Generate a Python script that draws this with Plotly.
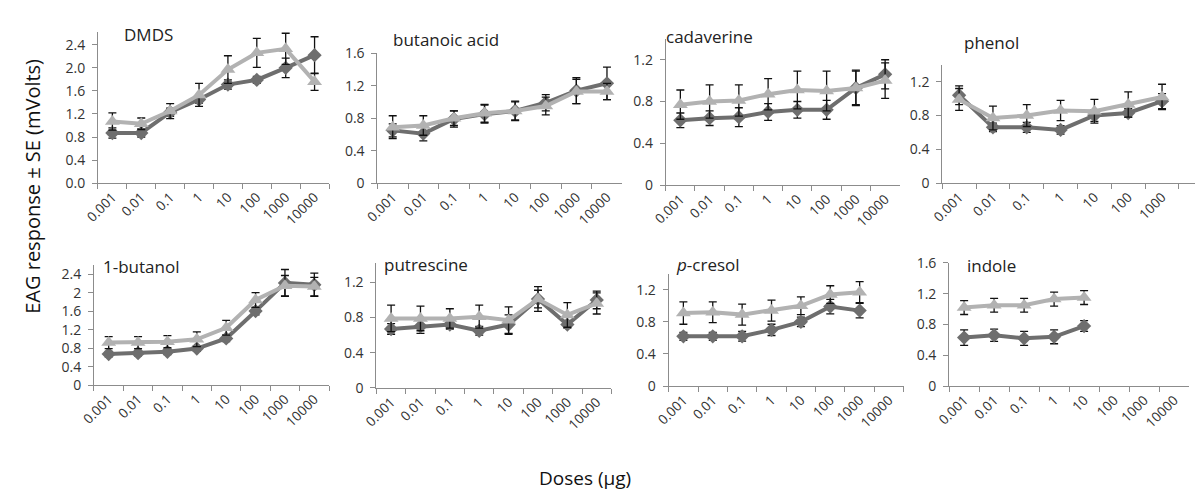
import plotly.graph_objects as go

# Dose levels (µg) shared by every panel
doses = ["0.001", "0.01", "0.1", "1", "10", "100", "1000", "10000"]

# Mean EAG response (mV) and SE for the two series of each compound
dmds_dark = [0.87, 0.87, 1.23, 1.45, 1.71, 1.79, 2.00, 2.22]
dmds_dark_se = [0.09, 0.07, 0.07, 0.06, 0.08, 0.06, 0.17, 0.32]
dmds_light = [1.07, 1.03, 1.25, 1.53, 1.97, 2.26, 2.33, 1.76]
dmds_light_se = [0.15, 0.10, 0.13, 0.20, 0.24, 0.25, 0.27, 0.15]

butanoic_dark = [0.65, 0.61, 0.79, 0.85, 0.89, 0.99, 1.14, 1.23]
butanoic_dark_se = [0.08, 0.09, 0.10, 0.11, 0.11, 0.10, 0.16, 0.20]
butanoic_light = [0.69, 0.71, 0.80, 0.86, 0.89, 0.95, 1.13, 1.13]
butanoic_light_se = [0.14, 0.12, 0.09, 0.11, 0.12, 0.11, 0.15, 0.10]

cadaverine_dark = [0.62, 0.64, 0.65, 0.70, 0.72, 0.72, 0.93, 1.06]
cadaverine_dark_se = [0.07, 0.07, 0.09, 0.08, 0.08, 0.09, 0.16, 0.14]
cadaverine_light = [0.77, 0.80, 0.81, 0.87, 0.91, 0.90, 0.93, 1.00]
cadaverine_light_se = [0.14, 0.16, 0.15, 0.15, 0.18, 0.19, 0.17, 0.17]

phenol_dark = [1.04, 0.66, 0.66, 0.63, 0.80, 0.83, 0.97]
phenol_dark_se = [0.11, 0.05, 0.06, 0.05, 0.07, 0.05, 0.09]
phenol_light = [0.99, 0.77, 0.80, 0.86, 0.85, 0.93, 1.02]
phenol_light_se = [0.13, 0.14, 0.13, 0.12, 0.14, 0.15, 0.15]

butanol_dark = [0.67, 0.69, 0.72, 0.79, 1.01, 1.60, 2.21, 2.17]
butanol_dark_se = [0.06, 0.06, 0.06, 0.06, 0.07, 0.08, 0.29, 0.25]
butanol_light = [0.92, 0.92, 0.94, 0.99, 1.24, 1.84, 2.15, 2.13]
butanol_light_se = [0.13, 0.13, 0.13, 0.16, 0.16, 0.16, 0.22, 0.20]

putrescine_dark = [0.67, 0.70, 0.72, 0.65, 0.72, 1.01, 0.72, 1.00]
putrescine_dark_se = [0.06, 0.08, 0.05, 0.05, 0.11, 0.10, 0.04, 0.10]
putrescine_light = [0.79, 0.79, 0.79, 0.81, 0.77, 1.01, 0.83, 0.96]
putrescine_light_se = [0.15, 0.14, 0.11, 0.13, 0.15, 0.14, 0.14, 0.12]

cresol_dark = [0.62, 0.62, 0.62, 0.70, 0.80, 0.99, 0.94]
cresol_dark_se = [0.05, 0.05, 0.06, 0.07, 0.06, 0.09, 0.09]
cresol_light = [0.91, 0.92, 0.89, 0.94, 1.00, 1.14, 1.17]
cresol_light_se = [0.14, 0.13, 0.13, 0.13, 0.11, 0.11, 0.13]

indole_dark = [0.63, 0.66, 0.62, 0.64, 0.78]
indole_dark_se = [0.10, 0.08, 0.09, 0.09, 0.07]
indole_light = [1.02, 1.05, 1.05, 1.13, 1.15]
indole_light_se = [0.09, 0.09, 0.09, 0.09, 0.09]

W, H = 1195, 497
FONT = "Open Sans"
DARK = "#6e6e6e"
LIGHT = "#b2b2b2"
AXIS = "#8c8c8c"

# Panel layout in pixels: plot box (x0, x1, ytop, ybottom), y max, title anchor
panels = [
    dict(title="DMDS", dark=(dmds_dark, dmds_dark_se), light=(dmds_light, dmds_light_se),
         box=(84, 318, 23, 180), ymax=2.62, fmt=".1f", tx=108, ty=25),
    dict(title="butanoic acid", dark=(butanoic_dark, butanoic_dark_se), light=(butanoic_light, butanoic_light_se),
         box=(367, 615, 45, 180), ymax=1.6, fmt="", tx=381, ty=31),
    dict(title="cadaverine", dark=(cadaverine_dark, cadaverine_dark_se), light=(cadaverine_light, cadaverine_light_se),
         box=(659, 896, 30, 182), ymax=1.4, fmt="", tx=657, ty=28),
    dict(title="phenol", dark=(phenol_dark, phenol_dark_se), light=(phenol_light, phenol_light_se),
         box=(939, 1195, 57, 180), ymax=1.4, fmt="", tx=959, ty=34, cat_px=34.25),
    dict(title="1-butanol", dark=(butanol_dark, butanol_dark_se), light=(butanol_light, butanol_light_se),
         box=(80, 318, 265, 390), ymax=2.6, fmt="", tx=87, ty=267),
    dict(title="putrescine", dark=(putrescine_dark, putrescine_dark_se), light=(putrescine_light, putrescine_light_se),
         box=(366, 604, 263, 393), ymax=1.42, fmt="", tx=372, ty=265),
    dict(title="<i>p</i>-cresol", dark=(cresol_dark, cresol_dark_se), light=(cresol_light, cresol_light_se),
         box=(662, 900, 275, 391), ymax=1.39, fmt="", tx=667, ty=265),
    dict(title="indole", dark=(indole_dark, indole_dark_se), light=(indole_light, indole_light_se),
         box=(946, 1189, 263, 391), ymax=1.6, fmt="", tx=962, ty=266),
]

fig = go.Figure()
annotations = []

for i, p in enumerate(panels, start=1):
    xa = "x" if i == 1 else f"x{i}"
    ya = "y" if i == 1 else f"y{i}"
    x0, x1, yt, yb = p["box"]

    for (vals, se), color, symbol, msize in (
        (p["dark"], DARK, "diamond", 11),
        (p["light"], LIGHT, "triangle-up", 13),
    ):
        fig.add_trace(go.Scatter(
            x=doses[:len(vals)], y=vals, xaxis=xa, yaxis=ya,
            mode="lines+markers",
            line=dict(color=color, width=4),
            marker=dict(symbol=symbol, size=msize, color=color),
            error_y=dict(type="data", array=se, visible=True, color="#111111",
                         thickness=1.3, width=4),
            showlegend=False, hoverinfo="skip",
        ))

    if "cat_px" in p:
        xr = [-0.5, -0.5 + (x1 - x0) / p["cat_px"]]
    else:
        xr = [-0.5, len(doses) - 0.5]

    key_x = "xaxis" if i == 1 else f"xaxis{i}"
    key_y = "yaxis" if i == 1 else f"yaxis{i}"
    fig.layout[key_x] = dict(
        type="category", categoryorder="array", categoryarray=doses,
        range=xr, domain=[x0 / W, x1 / W], anchor=ya,
        tickson="boundaries", ticks="outside", ticklen=5, tickcolor=AXIS,
        showline=True, linecolor=AXIS, linewidth=1, showgrid=False,
        zeroline=False, tickangle=-45,
        tickfont=dict(family=FONT, size=13.5, color="#333333"),
    )
    fig.layout[key_y] = dict(
        range=[0, p["ymax"]], domain=[1 - yb / H, 1 - yt / H], anchor=xa,
        dtick=0.4, tick0=0, tickformat=p["fmt"],
        ticks="outside", ticklen=5, tickcolor=AXIS, ticklabelstandoff=4,
        showline=True, linecolor=AXIS, linewidth=1, showgrid=False,
        zeroline=False,
        tickfont=dict(family=FONT, size=14, color="#333333"),
    )
    annotations.append(dict(
        text=p["title"], xref="paper", yref="paper",
        x=p["tx"] / W, y=1 - p["ty"] / H, xanchor="left", yanchor="middle",
        showarrow=False, font=dict(family=FONT, size=17, color="#222222"),
    ))

annotations.append(dict(
    text="EAG response ± SE (mVolts)", xref="paper", yref="paper",
    x=17 / W, y=1 - 183 / H, xanchor="center", yanchor="middle",
    textangle=-90, showarrow=False,
    font=dict(family=FONT, size=20, color="#111111"),
))
annotations.append(dict(
    text="Doses (µg)", xref="paper", yref="paper",
    x=577 / W, y=1 - 487 / H, xanchor="center", yanchor="middle",
    showarrow=False, font=dict(family=FONT, size=19, color="#111111"),
))

fig.update_layout(
    width=W, height=H,
    margin=dict(l=0, r=0, t=0, b=0),
    paper_bgcolor="white", plot_bgcolor="white",
    annotations=annotations,
)

fig.write_html("out.html")
